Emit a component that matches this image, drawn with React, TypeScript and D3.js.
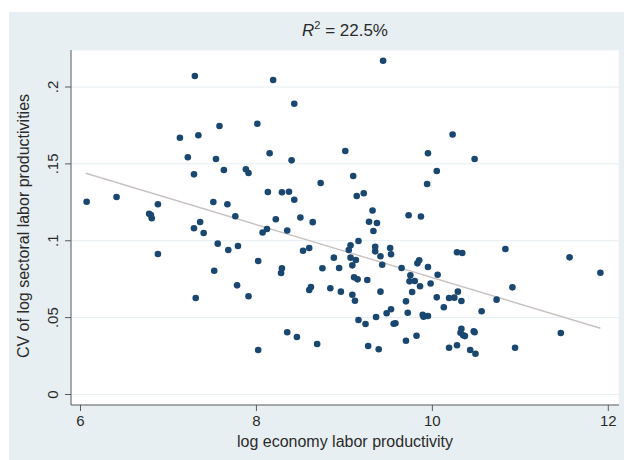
import React from "react";
import * as d3 from "d3";

// log economy labor productivity
const xValues: number[] = [
  7.30, 7.58, 8.01, 7.13, 7.34, 7.22, 7.54, 8.15, 7.63, 7.29,
  7.88, 7.91, 6.07, 6.41, 6.88, 7.51, 7.67, 6.78, 6.80, 6.81,
  7.76, 8.13, 7.36, 7.29, 8.12, 7.40, 8.07, 7.56, 7.68, 7.79,
  6.88, 8.02, 7.52, 7.78, 7.91, 7.31, 8.02, 9.44, 8.19, 8.43,
  9.01, 8.40, 9.95, 10.05, 9.94, 9.10, 10.23, 8.73, 8.29, 8.37,
  8.43, 9.14, 9.22, 9.32, 9.73, 9.87, 8.22, 8.50, 8.64, 9.28,
  9.37, 8.35, 9.33, 9.16, 9.07, 9.05, 9.35, 9.35, 9.52, 9.53,
  9.41, 8.53, 8.60, 8.88, 9.07, 9.13, 9.09, 9.43, 9.65, 9.85,
  9.83, 9.95, 10.06, 8.29, 8.28, 8.75, 8.94, 9.75, 9.74, 9.80,
  9.86, 9.98, 9.11, 9.15, 9.26, 8.62, 8.60, 8.84, 8.96, 9.09,
  9.12, 9.41, 9.77, 9.70, 10.05, 10.19, 10.13, 9.53, 9.48, 9.72,
  9.89, 9.90, 9.95, 9.36, 9.16, 9.24, 9.56, 9.58, 8.35, 8.46,
  8.69, 9.27, 9.39, 9.70, 9.82, 10.19, 10.48, 10.28, 10.34, 10.83,
  11.56, 11.91, 10.29, 10.25, 10.33, 10.91, 10.73, 10.56, 10.33, 10.32,
  10.35, 10.37, 10.47, 10.48, 11.46, 10.28, 10.43, 10.49, 10.94,
];

// CV of log sectoral labor productivities
const yValues: number[] = [
  0.2072, 0.1746, 0.1761, 0.1670, 0.1686, 0.1543, 0.1532, 0.1569, 0.1460, 0.1432,
  0.1465, 0.1441, 0.1254, 0.1285, 0.1237, 0.1252, 0.1237, 0.1176, 0.1167, 0.1146,
  0.1159, 0.1317, 0.1122, 0.1081, 0.1076, 0.1050, 0.1054, 0.0981, 0.0940, 0.0966,
  0.0914, 0.0868, 0.0805, 0.0710, 0.0639, 0.0628, 0.0289, 0.2171, 0.2046, 0.1891,
  0.1584, 0.1523, 0.1569, 0.1454, 0.1369, 0.1421, 0.1691, 0.1376, 0.1315, 0.1319,
  0.1267, 0.1291, 0.1309, 0.1197, 0.1166, 0.1158, 0.1140, 0.1151, 0.1121, 0.1124,
  0.1115, 0.1067, 0.1063, 0.0998, 0.0970, 0.0940, 0.0961, 0.0931, 0.0953, 0.0912,
  0.0899, 0.0935, 0.0953, 0.0890, 0.0890, 0.0875, 0.0840, 0.0844, 0.0823, 0.0873,
  0.0853, 0.0829, 0.0779, 0.0821, 0.0790, 0.0821, 0.0823, 0.0775, 0.0736, 0.0738,
  0.0704, 0.0722, 0.0762, 0.0749, 0.0745, 0.0699, 0.0680, 0.0691, 0.0669, 0.0649,
  0.0610, 0.0669, 0.0667, 0.0606, 0.0632, 0.0628, 0.0567, 0.0554, 0.0528, 0.0532,
  0.0519, 0.0506, 0.0511, 0.0504, 0.0485, 0.0459, 0.0460, 0.0463, 0.0405, 0.0374,
  0.0328, 0.0315, 0.0294, 0.0350, 0.0382, 0.0304, 0.1532, 0.0925, 0.0920, 0.0946,
  0.0892, 0.0792, 0.0669, 0.0630, 0.0608, 0.0697, 0.0617, 0.0541, 0.0428, 0.0402,
  0.0385, 0.0380, 0.0411, 0.0405, 0.0400, 0.0320, 0.0289, 0.0265, 0.0304,
];

// fitted regression line endpoints
const fitX: number[] = [6.06, 11.91];
const fitY: number[] = [0.1439, 0.0431];

const xTicks: number[] = [6, 8, 10, 12];
const yTicks: number[] = [0, 0.05, 0.1, 0.15, 0.2];
const yTickLabels: string[] = ["0", ".05", ".1", ".15", ".2"];

const titleMain = "R";
const titleSup = "2";
const titleRest = " = 22.5%";
const xTitle = "log economy labor productivity";
const yTitle = "CV of log sectoral labor productivities";

export default function App() {
  const W = 624;
  const H = 460;
  const plotL = 71;
  const plotR = 619;
  const plotT = 50;
  const plotB = 405;

  const x = d3.scaleLinear().domain([6, 12]).range([80.5, 608.3]);
  const y = d3.scaleLinear().domain([0, 0.2]).range([394.5, 87]);

  const line = d3
    .line<number>()
    .x((_, i) => x(fitX[i]))
    .y((_, i) => y(fitY[i]));

  const font = "Liberation Sans, Arial, Helvetica, sans-serif";
  const textColor = "#2b2b2b";
  const axisColor = "#5a5a5a";

  return (
    <svg
      width={W}
      height={H}
      style={{ position: "absolute", left: 0, top: 0, display: "block" }}
      fontFamily={font}
    >
      <rect x={0} y={0} width={W} height={H} fill="#ffffff" />
      <rect x={9} y={12} width={W - 9} height={H - 12} fill="#e8eff2" />
      <rect
        x={plotL}
        y={plotT}
        width={plotR - plotL}
        height={plotB - plotT}
        fill="#ffffff"
        stroke="#eef3f5"
        strokeWidth={1}
      />
      {yTicks.map((t) => (
        <line
          key={"g" + t}
          x1={plotL}
          x2={plotR}
          y1={y(t)}
          y2={y(t)}
          stroke="#e6eef1"
          strokeWidth={1}
        />
      ))}
      {/* fit line */}
      <path d={line(fitX) || ""} fill="none" stroke="#c8c2c2" strokeWidth={1.4} />
      {/* points */}
      {xValues.map((xv, i) => (
        <circle key={i} cx={x(xv)} cy={y(yValues[i])} r={3.3} fill="#1a476f" />
      ))}
      {/* axes */}
      <line x1={plotL} x2={plotL} y1={plotT} y2={plotB} stroke={axisColor} strokeWidth={1} />
      <line x1={plotL} x2={plotR} y1={plotB} y2={plotB} stroke={axisColor} strokeWidth={1} />
      {yTicks.map((t, i) => (
        <g key={"yt" + t}>
          <line x1={plotL - 6} x2={plotL} y1={y(t)} y2={y(t)} stroke={axisColor} strokeWidth={1} />
          <text
            transform={`translate(58, ${y(t)}) rotate(-90)`}
            textAnchor="middle"
            fontSize={15}
            fill={textColor}
          >
            {yTickLabels[i]}
          </text>
        </g>
      ))}
      {xTicks.map((t) => (
        <g key={"xt" + t}>
          <line x1={x(t)} x2={x(t)} y1={plotB} y2={plotB + 6} stroke={axisColor} strokeWidth={1} />
          <text x={x(t)} y={426} textAnchor="middle" fontSize={15} fill={textColor}>
            {t}
          </text>
        </g>
      ))}
      <text x={345} y={447} textAnchor="middle" fontSize={16} fill={textColor}>
        {xTitle}
      </text>
      <text
        transform={`translate(29, 226) rotate(-90)`}
        textAnchor="middle"
        fontSize={16}
        fill={textColor}
      >
        {yTitle}
      </text>
      <text x={345} y={36} textAnchor="middle" fontSize={17} fill={textColor}>
        <tspan fontStyle="italic">{titleMain}</tspan>
        <tspan fontSize={11} dy={-7}>
          {titleSup}
        </tspan>
        <tspan dy={7}>{titleRest}</tspan>
      </text>
    </svg>
  );
}
